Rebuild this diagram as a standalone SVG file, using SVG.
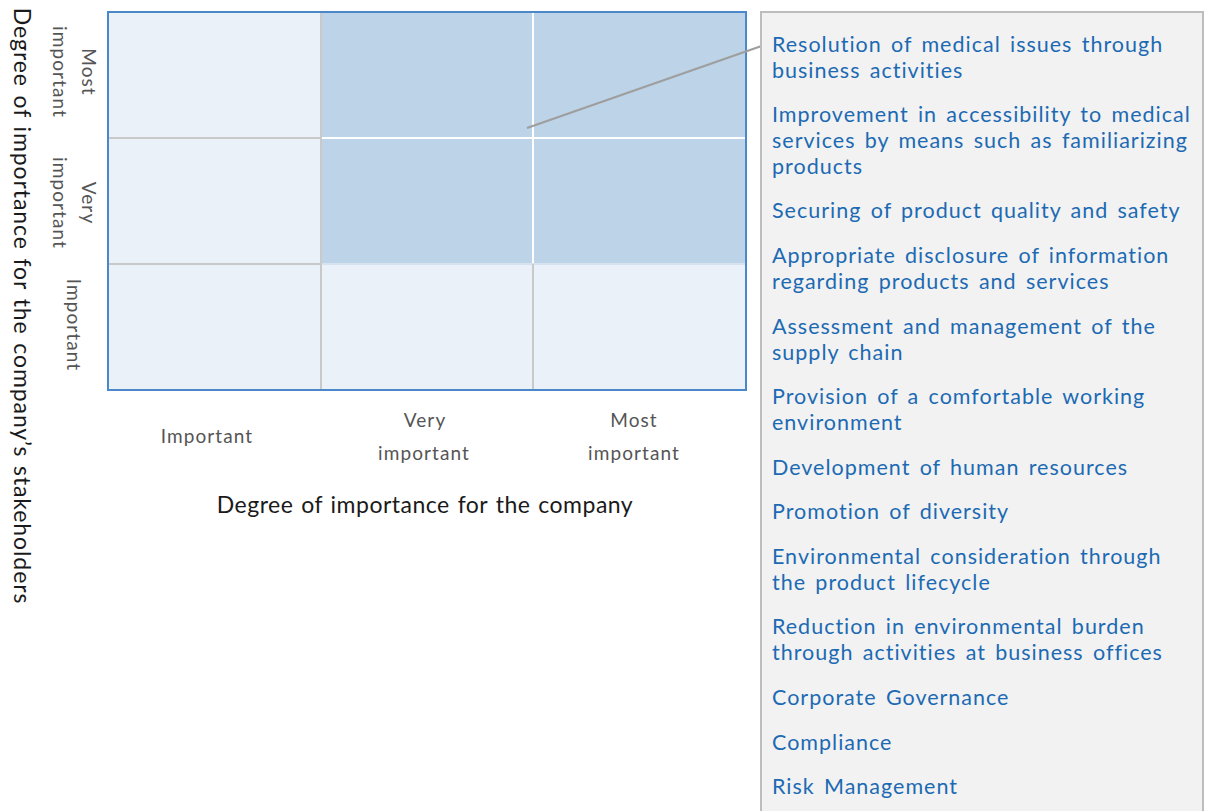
<svg xmlns="http://www.w3.org/2000/svg" width="1205" height="811" viewBox="0 0 1205 811">
<style>
.item{font-family:Lato,"Open Sans",sans-serif;font-size:21.5px;letter-spacing:1px;word-spacing:2.8px;fill:#1C6AB3}
.lbl{font-family:Lato,"Open Sans",sans-serif;font-size:19px;letter-spacing:1.1px;fill:#555555}
.axis{font-family:Lato,"Open Sans",sans-serif;font-size:23px;fill:#1a1a1a}
.light{fill:#EAF1F8}
.dark{fill:#BCD3E8}
.gl{stroke:#C9C9C9;stroke-width:2}
.wl{stroke:#FFFFFF;stroke-width:2}
</style>
<rect width="1205" height="811" fill="#FFFFFF"/>
<g id="matrix">
<rect class="light" x="108" y="12" width="638" height="378"/>
<rect class="dark" x="321" y="12" width="425" height="252"/>
<line class="gl" x1="108" y1="138" x2="321" y2="138"/>
<line class="gl" x1="108" y1="264" x2="321" y2="264"/>
<line class="wl" x1="321" y1="138" x2="746" y2="138"/>
<line class="wl" x1="533" y1="12" x2="533" y2="264"/>
<line x1="321" y1="264" x2="746" y2="264" stroke="#D6E2EE" stroke-width="2"/>
<line class="gl" x1="321" y1="12" x2="321" y2="390"/>
<line class="gl" x1="533" y1="264" x2="533" y2="390"/>
<rect x="108" y="12" width="638" height="378" fill="none" stroke="#4A88C9" stroke-width="2"/>
</g>
<g id="y-labels">
<text class="lbl" transform="translate(82,72) rotate(90)" text-anchor="middle"><tspan x="0" y="0">Most</tspan><tspan x="0" dy="29">important</tspan></text>
<text class="lbl" transform="translate(82,203) rotate(90)" text-anchor="middle"><tspan x="0" y="0">Very</tspan><tspan x="0" dy="29">important</tspan></text>
<text class="lbl" transform="translate(67,325) rotate(90)" text-anchor="middle">Important</text>
</g>
<g id="x-labels">
<text class="lbl" x="207" y="443" text-anchor="middle">Important</text>
<text class="lbl" text-anchor="middle"><tspan x="425" y="427">Very</tspan><tspan x="424" dy="33">important</tspan></text>
<text class="lbl" text-anchor="middle"><tspan x="634" y="427">Most</tspan><tspan x="634" dy="33">important</tspan></text>
</g>
<g id="axis-titles">
<text class="axis" x="425" y="513" text-anchor="middle" letter-spacing="0.5" word-spacing="1.5">Degree of importance for the company</text>
<text class="axis" transform="translate(14,306) rotate(90)" text-anchor="middle" letter-spacing="0.9" word-spacing="2">Degree of importance for the company’s stakeholders</text>
</g>
<g id="connectors">
<line x1="527" y1="128" x2="773" y2="42" stroke="#9E9E9E" stroke-width="2"/>
</g>
<g id="issue-list">
<rect x="761" y="12" width="442" height="805" fill="#F2F2F2" stroke="#BDBDBD" stroke-width="2"/>
<text class="item"><tspan x="772" y="52">Resolution of medical issues through</tspan><tspan x="772" dy="26">business activities</tspan></text>
<text class="item"><tspan x="772" y="122">Improvement in accessibility to medical</tspan><tspan x="772" dy="26">services by means such as familiarizing</tspan><tspan x="772" dy="26">products</tspan></text>
<text class="item" x="772" y="218">Securing of product quality and safety</text>
<text class="item"><tspan x="772" y="263">Appropriate disclosure of information</tspan><tspan x="772" dy="26">regarding products and services</tspan></text>
<text class="item"><tspan x="772" y="334">Assessment and management of the</tspan><tspan x="772" dy="26">supply chain</tspan></text>
<text class="item"><tspan x="772" y="404">Provision of a comfortable working</tspan><tspan x="772" dy="26">environment</tspan></text>
<text class="item" x="772" y="475">Development of human resources</text>
<text class="item" x="772" y="519">Promotion of diversity</text>
<text class="item"><tspan x="772" y="564">Environmental consideration through</tspan><tspan x="772" dy="26">the product lifecycle</tspan></text>
<text class="item"><tspan x="772" y="634">Reduction in environmental burden</tspan><tspan x="772" dy="26">through activities at business offices</tspan></text>
<text class="item" x="772" y="705">Corporate Governance</text>
<text class="item" x="772" y="750">Compliance</text>
<text class="item" x="772" y="794">Risk Management</text>
</g>
</svg>
